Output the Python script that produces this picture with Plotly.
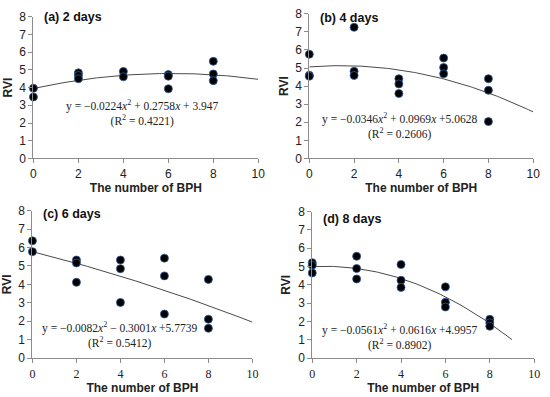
import numpy as np
import plotly.graph_objects as go

# ---- data ----
x_a = [0, 0, 2, 2, 2, 4, 4, 6, 6, 6, 8, 8, 8]
y_a = [3.96, 3.47, 4.83, 4.68, 4.50, 4.91, 4.61, 4.73, 4.64, 3.93, 5.48, 4.77, 4.39]

x_b = [0, 0, 0, 2, 2, 2, 4, 4, 4, 6, 6, 6, 8, 8, 8]
y_b = [5.76, 4.60, 4.55, 7.25, 4.82, 4.59, 4.41, 4.12, 3.59, 5.55, 5.03, 4.68, 4.41, 3.77, 2.04]

x_c = [0, 0, 2, 2, 2, 4, 4, 4, 6, 6, 6, 8, 8, 8]
y_c = [6.36, 5.77, 5.32, 5.16, 4.11, 5.32, 4.85, 3.02, 5.42, 4.46, 2.39, 4.27, 2.11, 1.62]

x_d = [0, 0, 0, 2, 2, 2, 4, 4, 4, 6, 6, 6, 8, 8, 8]
y_d = [5.21, 5.07, 4.65, 5.56, 4.89, 4.32, 5.11, 4.25, 3.86, 3.89, 3.05, 2.79, 2.12, 1.93, 1.74]

# fitted quadratic coefficients (a, b, c) and curve x-extent
coef_a = [-0.0224, 0.2758, 3.947]
coef_b = [-0.0346, 0.0969, 5.0628]
coef_c = [-0.0082, -0.3001, 5.7739]
coef_d = [-0.0561, 0.0616, 4.9957]
xmax_fit = [10, 10, 10, 9]

titles = ["(a) 2 days", "(b) 4 days", "(c) 6 days", "(d) 8 days"]
eqs = [
    "y = −0.0224<i>x</i><sup>2</sup> + 0.2758<i>x</i> + 3.947<br>(R<sup>2</sup> = 0.4221)",
    "y = −0.0346<i>x</i><sup>2</sup> + 0.0969<i>x</i> +5.0628<br>(R<sup>2</sup> = 0.2606)",
    "y = −0.0082<i>x</i><sup>2</sup> − 0.3001<i>x</i> +5.7739<br>(R<sup>2</sup> = 0.5412)",
    "y = −0.0561<i>x</i><sup>2</sup> + 0.0616<i>x</i> +4.9957<br>(R<sup>2</sup> = 0.8902)",
]
x_ticks = [0, 2, 4, 6, 8, 10]
y_ticks = [0, 1, 2, 3, 4, 5, 6, 7, 8]

W, H = 550, 397
# plot areas in pixels: (left, right, top, bottom)
boxes = [(31, 260, 10, 157), (312, 540, 7, 157), (30, 254, 211, 364), (315, 541, 212, 364)]
title_pos = [(40, 10), (321, 11), (39, 215), (324, 220)]
eq_pos = [(142, 110), (404, 123), (119, 340), (404, 342)]
xt_fonts = ["Liberation Sans", "Liberation Sans", "Liberation Serif", "Liberation Serif"]

xs = [x_a, x_b, x_c, x_d]
ys = [y_a, y_b, y_c, y_d]
coefs = [coef_a, coef_b, coef_c, coef_d]

fig = go.Figure()
layout = {}
annotations = []
axcol = "#8c8c8c"
for i in range(4):
    n = "" if i == 0 else str(i + 1)
    l, r, t, b = boxes[i]
    xd = [l / W, r / W]
    yd = [1 - b / H, 1 - t / H]
    a, bb, c = coefs[i]
    xf = np.linspace(0, xmax_fit[i], 101)
    yf = a * xf ** 2 + bb * xf + c
    fig.add_trace(go.Scatter(x=xf, y=yf, mode="lines", line=dict(color="#4a4a4a", width=1),
                             xaxis="x" + n, yaxis="y" + n, showlegend=False, hoverinfo="skip"))
    fig.add_trace(go.Scatter(x=xs[i], y=ys[i], mode="markers", cliponaxis=False,
                             marker=dict(color="black", size=8, line=dict(color="#2e5b9a", width=0.8)),
                             xaxis="x" + n, yaxis="y" + n, showlegend=False))
    layout["xaxis" + n] = dict(domain=xd, anchor="y" + n, range=[0, 10], tickvals=x_ticks,
                               showline=True, linecolor=axcol, linewidth=1, ticks="outside",
                               ticklen=4, tickcolor=axcol, showgrid=False, zeroline=False,
                               tickfont=dict(family=xt_fonts[i], size=12, color="#222"),
                               title=dict(text="<b>The number of BPH</b>", standoff=3,
                                          font=dict(family="Liberation Sans", size=12, color="#222")))
    layout["yaxis" + n] = dict(domain=yd, anchor="x" + n, range=[0, 8], tickvals=y_ticks,
                               showline=True, linecolor=axcol, linewidth=1, ticks="outside",
                               ticklen=4, tickcolor=axcol, showgrid=False, zeroline=False,
                               tickfont=dict(family="Liberation Sans", size=12, color="#222"),
                               title=dict(text="<b>RVI</b>", standoff=4,
                                          font=dict(family="Liberation Sans", size=12, color="#222")))
    annotations.append(dict(text="<b>" + titles[i] + "</b>", x=title_pos[i][0] / W, y=1 - title_pos[i][1] / H,
                            xref="paper", yref="paper", xanchor="left", yanchor="middle", showarrow=False,
                            font=dict(family="Liberation Sans", size=12.5, color="#111")))
    annotations.append(dict(text=eqs[i], x=eq_pos[i][0] / W, y=1 - eq_pos[i][1] / H,
                            xref="paper", yref="paper", xanchor="center", yanchor="middle", showarrow=False,
                            align="center",
                            font=dict(family="Liberation Serif", size=11.5, color="#222")))

fig.update_layout(width=W, height=H, margin=dict(l=0, r=0, t=0, b=0),
                  paper_bgcolor="white", plot_bgcolor="white", annotations=annotations, **layout)
fig.write_html("out.html", config={"displayModeBar": False},
               post_script="document.body.style.margin='0';document.body.style.overflow='hidden';")
